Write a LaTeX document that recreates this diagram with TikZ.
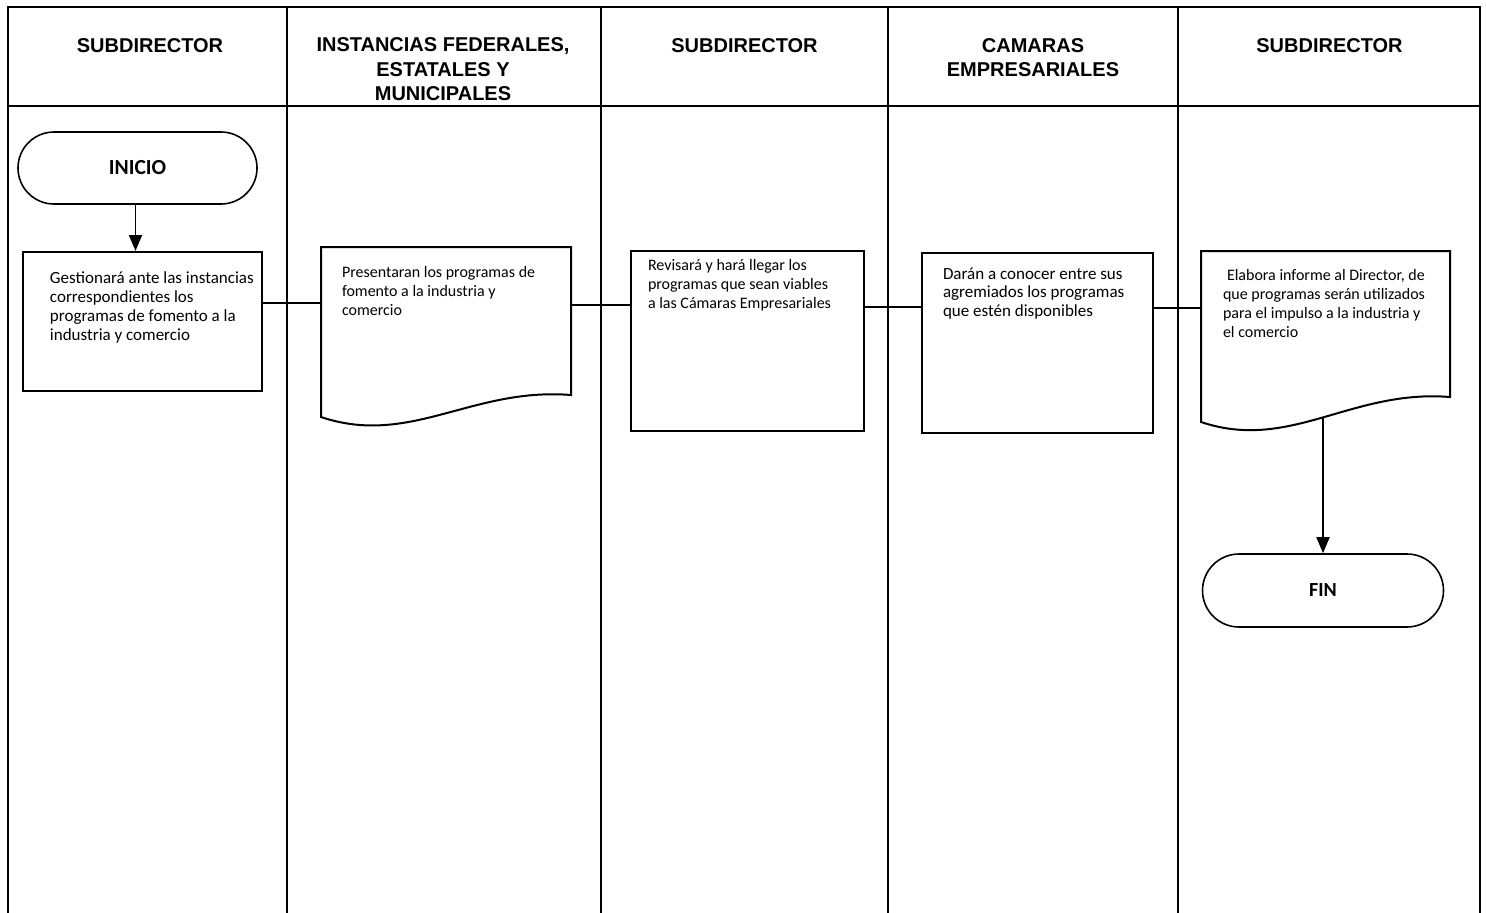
\documentclass[tikz,border=0pt]{standalone}
\usepackage{fontspec}
\setmainfont{Carlito}
\newfontfamily\encabezado{Liberation Sans}
\usetikzlibrary{arrows.meta,shapes.misc,calc}

% ancho, alto, sangria, primera base, texto
\newcommand{\cajatexto}[5]{%
  \hspace*{#3}\parbox[t][#2][t]{\dimexpr#1-#3\relax}{\raggedright\rule{0pt}{#4}#5}}

\begin{document}
\begin{tikzpicture}[x=1pt, y=-1pt,
    marco/.style={line width=2pt},
    titulo/.style={anchor=north, align=center, inner sep=0pt,
        font={\encabezado\bfseries\fontsize{20}{24.5}\selectfont}},
    terminal/.style={draw, line width=1.6pt, rounded rectangle, inner sep=0pt,
        font={\bfseries\fontsize{20}{24}\selectfont}},
    proc/.style={draw, line width=2pt, anchor=north west, inner sep=0pt,
        font={\fontsize{16}{19}\selectfont}},
    docu/.style={proc, draw=none},
    linea/.style={line width=1.8pt},
    flecha/.style={line width=1.8pt, -{Triangle[width=13pt,length=16pt]}}]

\useasboundingbox (0,0) rectangle (1486,913);

% carriles
\draw[marco] (8,913) -- (8,7) -- (1480,7) -- (1480,913);
\draw[marco] (8,106) -- (1480,106);
\foreach \x in {287,601,888,1178}
    \draw[marco] (\x,7) -- (\x,913);

\node[titulo] (sub1) at (150,38) {SUBDIRECTOR};
\node[titulo] (inst) at (443,37.5) {INSTANCIAS FEDERALES,\\ESTATALES Y\\MUNICIPALES};
\node[titulo] (sub2) at (744.5,38) {SUBDIRECTOR};
\node[titulo] (cam)  at (1033,38) {CAMARAS\\EMPRESARIALES};
\node[titulo] (sub3) at (1329.5,38) {SUBDIRECTOR};

% pasos
\node[terminal, minimum width=239pt, minimum height=72pt,
    font={\bfseries\fontsize{21.5}{24}\selectfont}] (inicio) at (137.5,168) {INICIO};

\node[proc, font={\fontsize{17}{19}\selectfont}] (gest) at (22,251) {\cajatexto{239pt}{139pt}{27pt}{31pt}{%
    Gestionará ante las instancias\\correspondientes los\\programas de fomento a la\\industria y comercio}};

\node[docu] (pres) at (321,247) {\cajatexto{248pt}{146pt}{20pt}{29pt}{%
    Presentaran los programas de\\fomento a la industria y\\comercio}};
\coordinate (presL) at ($(pres.south west)+(0,22)$);
\draw[line width=2pt] (presL) -- (pres.north west) -- (pres.north east) -- (pres.south east)
    .. controls +(-99,-8) and +(89,30) .. (presL) -- cycle;

\node[proc] (rev) at (630,250) {\cajatexto{233pt}{180pt}{17pt}{19pt}{%
    Revisará y hará llegar los\\programas que sean viables\\a las Cámaras Empresariales}};

\node[proc, font={\fontsize{17}{18.5}\selectfont}] (dar) at (921,252) {\cajatexto{231pt}{180pt}{21pt}{26pt}{%
    Darán a conocer entre sus\\agremiados los programas\\que estén disponibles}};

\node[docu] (inf) at (1201,251) {\cajatexto{247pt}{144pt}{21pt}{28pt}{%
    \hspace*{4pt}Elabora informe al Director, de\\que programas serán utilizados\\para el impulso a la industria y\\el comercio}};
\coordinate (infL) at ($(inf.south west)+(0,25)$);
\draw[line width=2pt] (infL) -- (inf.north west) -- (inf.north east) -- (inf.south east)
    .. controls +(-99,-8) and +(89,30) .. (infL) coordinate[pos=0.5] (infS) -- cycle;

\node[terminal, minimum width=241pt, minimum height=73pt] (fin) at (1323,590.5) {FIN};

% conectores
\draw[flecha] ([xshift=-2pt]inicio.south) -- ([xshift=-2pt]inicio.south |- gest.north);
\draw[linea] (gest.east |- 0,303) -- (pres.west |- 0,303);
\draw[linea] (pres.east |- 0,305) -- (rev.west |- 0,305);
\draw[linea] (rev.east |- 0,307) -- (dar.west |- 0,307);
\draw[linea] (dar.east |- 0,308) -- (inf.west |- 0,308);
\draw[flecha] (fin.north |- infS) -- (fin.north);

\end{tikzpicture}
\end{document}
